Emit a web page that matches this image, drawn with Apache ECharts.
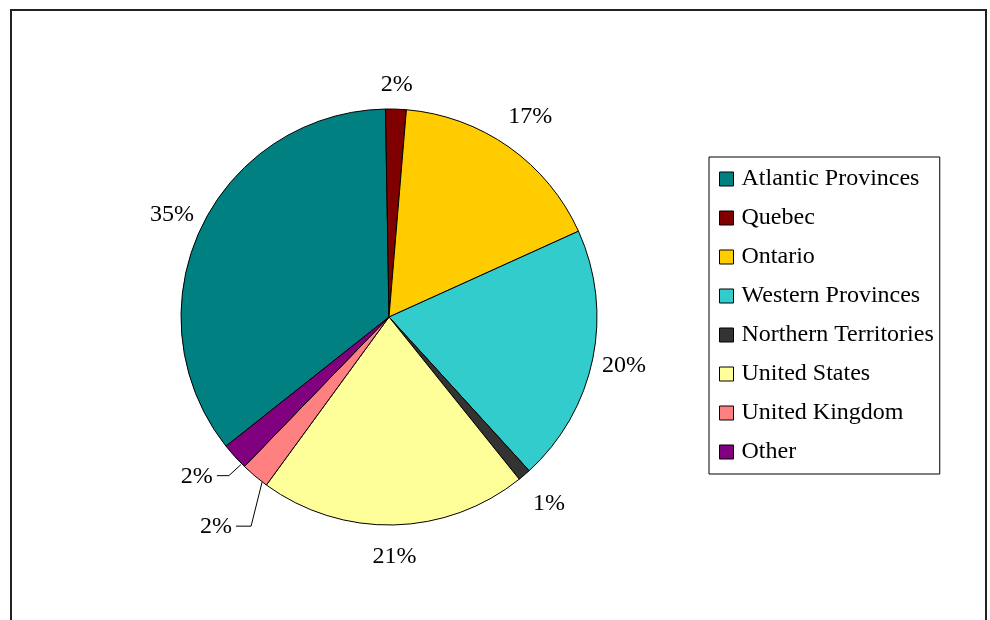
<!DOCTYPE html>
<html><head><meta charset="utf-8">
<script src="https://cdn.jsdelivr.net/npm/echarts@6/dist/echarts.min.js"></script>
<style>html,body{margin:0;padding:0;background:#fff}#c{width:990px;height:620px}</style>
</head><body><div id="c"></div>
<script>
const categories = ['Atlantic Provinces','Quebec','Ontario','Western Provinces','Northern Territories','United States','United Kingdom','Other'];
const values = [35.4, 1.6, 16.9, 20.0, 1.0, 20.8, 2.2, 2.1];
const colors = ['#008080','#800000','#FFCC00','#33CCCC','#333333','#FFFF99','#FF8080','#800080'];
const labelLengths = [32, 24, 37, 32, 38, 32, 14, 14];

const FONT = '"Liberation Serif","Times New Roman",serif';
const chart = echarts.init(document.getElementById('c'), null, {renderer: 'canvas'});

const data = categories.map((n, i) => {
  const d = {name: n, value: values[i], itemStyle: {color: colors[i]}};
  if (n === 'United Kingdom' || n === 'Other') {
    d.labelLine = {show: true, length: labelLengths[i], length2: 12};
  } else {
    d.labelLine = {length: labelLengths[i]};
  }
  return d;
});

chart.setOption({
  animation: false,
  backgroundColor: '#fff',
  graphic: [{
    type: 'rect', z: -1, silent: true,
    shape: {x: 11, y: 10, width: 975, height: 700},
    style: {fill: '#fff', stroke: '#222', lineWidth: 2}
  }],
  legend: {
    data: categories,
    orient: 'vertical',
    left: 709, top: 157,
    padding: [10, 6, 10, 10],
    itemWidth: 14, itemHeight: 14, itemGap: 15,
    icon: 'rect',
    itemStyle: {borderColor: '#000', borderWidth: 1},
    textStyle: {fontSize: 24, fontFamily: FONT, color: '#000', padding: [0, 0, 0, 3]},
    borderColor: '#000', borderWidth: 1,
    selectedMode: false
  },
  series: [{
    type: 'pie',
    center: [389, 317],
    radius: 208,
    startAngle: 218.4,
    clockwise: true,
    avoidLabelOverlap: false,
    percentPrecision: 2,
    itemStyle: {borderColor: '#000', borderWidth: 1},
    emphasis: {disabled: true},
    label: {
      show: true, position: 'outside',
      fontSize: 24, fontFamily: FONT, color: '#000',
      distanceToLabelLine: 0,
      formatter: p => Math.round(p.percent) + '%'
    },
    labelLine: {show: false, length: 32, length2: 0, lineStyle: {color: '#000', width: 1}},
    labelLayout: function (p) {
      const name = categories[p.dataIndex];
      const pts = p.labelLinePoints;
      if (name === 'United Kingdom' && pts) {
        const x0 = pts[0][0], y0 = pts[0][1];
        return {x: x0 - 23, y: y0 + 51, align: 'right', verticalAlign: 'middle',
          labelLinePoints: [[x0 + 7, y0 + 6], [x0 - 4, y0 + 50], [x0 - 19, y0 + 50]]};
      }
      if (name === 'Other' && pts) {
        const x0 = pts[0][0], y0 = pts[0][1];
        return {x: x0 - 22, y: y0 + 20, align: 'right', verticalAlign: 'middle',
          labelLinePoints: [[x0 + 6, y0 + 8], [x0 - 6, y0 + 19], [x0 - 18, y0 + 19]]};
      }
      return {align: 'center', verticalAlign: 'middle'};
    },
    data: data
  }]
});
</script></body></html>
